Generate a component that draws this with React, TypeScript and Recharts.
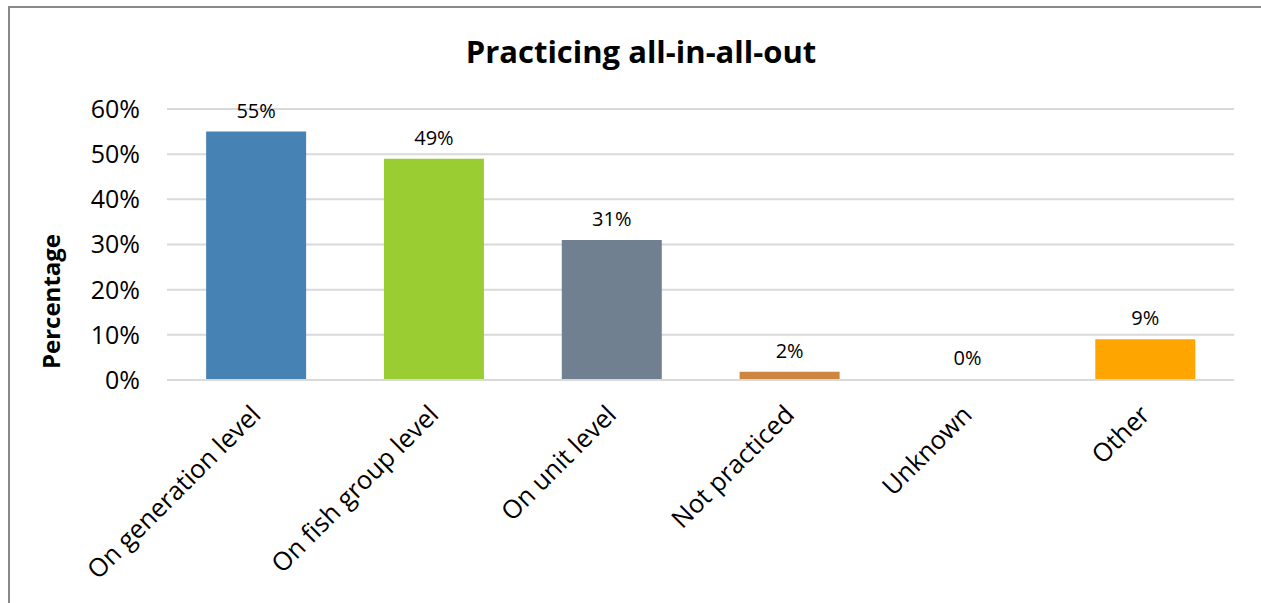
import React from 'react';
import { BarChart, Bar, XAxis, YAxis, CartesianGrid, LabelList, Cell } from 'recharts';

const categories = ['On generation level', 'On fish group level', 'On unit level', 'Not practiced', 'Unknown', 'Other'];
const values = [55, 49, 31, 1.8, 0, 9];
const colors = ['#4682B4', '#9ACD32', '#708090', '#CD853F', 'transparent', '#FFA500'];
const yTicks = [0, 10, 20, 30, 40, 50, 60];
const title = 'Practicing all-in-all-out';
const yLabel = 'Percentage';

const data = categories.map((name, i) => ({ name, value: values[i] }));

const FONT = '"Open Sans", sans-serif';

const CatTick = (props: any) => {
  const { x, y, payload } = props;
  return (
    <g transform={`translate(${x},${y})`}>
      <text
        x={0}
        y={0}
        dy="0.35em"
        textAnchor="end"
        transform="rotate(-45)"
        fontFamily={FONT}
        fontSize={25.5}
        fill="#000"
      >
        {payload.value}
      </text>
    </g>
  );
};

const YLab = (props: any) => {
  const { viewBox } = props;
  const cx = 50;
  const cy = viewBox.y + viewBox.height / 2 + 57;
  return (
    <text
      x={cx}
      y={cy}
      transform={`rotate(-90, ${cx}, ${cy})`}
      textAnchor="middle"
      dominantBaseline="central"
      fontFamily={FONT}
      fontWeight="bold"
      fontSize={24}
      fill="#000"
    >
      {yLabel}
    </text>
  );
};

export default function App() {
  return (
    <div style={{ position: 'absolute', left: 0, top: 0, width: 1261, height: 603, background: '#fff', overflow: 'hidden' }}>
      <div
        style={{
          position: 'absolute',
          left: 8,
          top: 6,
          width: 1300,
          height: 700,
          borderLeft: '2px solid #8a8a8a',
          borderTop: '2px solid #8a8a8a',
        }}
      />
      <div
        style={{
          position: 'absolute',
          left: 0,
          top: 31,
          width: 1282,
          textAlign: 'center',
          fontFamily: FONT,
          fontWeight: 'bold',
          fontSize: 31,
          color: '#000',
          lineHeight: '40px',
        }}
      >
        {title}
      </div>
      <div style={{ position: 'absolute', left: 0, top: 0 }}>
        <BarChart
          width={1261}
          height={603}
          data={data}
          margin={{ top: 109, right: 27, bottom: 0, left: 30 }}
          barCategoryGap="22%"
        >
          <CartesianGrid vertical={false} stroke="#d9d9d9" strokeWidth={2} />
          <XAxis
            dataKey="name"
            interval={0}
            height={223}
            tickLine={false}
            axisLine={{ stroke: '#d9d9d9', strokeWidth: 2 }}
            tickSize={0}
            tickMargin={30}
            tick={<CatTick />}
          />
          <YAxis
            width={137}
            domain={[0, 60]}
            ticks={yTicks}
            tickFormatter={(v: number) => `${v}%`}
            tickLine={false}
            axisLine={false}
            tickSize={0}
            tickMargin={27}
            tick={{ fontFamily: FONT, fontSize: 25, fill: '#000' }}
            label={<YLab />}
          />
          <Bar dataKey="value" isAnimationActive={false} minPointSize={1}>
            {data.map((d, i) => (
              <Cell key={d.name} fill={colors[i]} />
            ))}
            <LabelList
              dataKey="value"
              position="top"
              offset={14}
              formatter={(v: number) => `${Math.round(v)}%`}
              style={{ fontFamily: FONT, fontSize: 20, fill: '#000' }}
            />
          </Bar>
        </BarChart>
      </div>
    </div>
  );
}
